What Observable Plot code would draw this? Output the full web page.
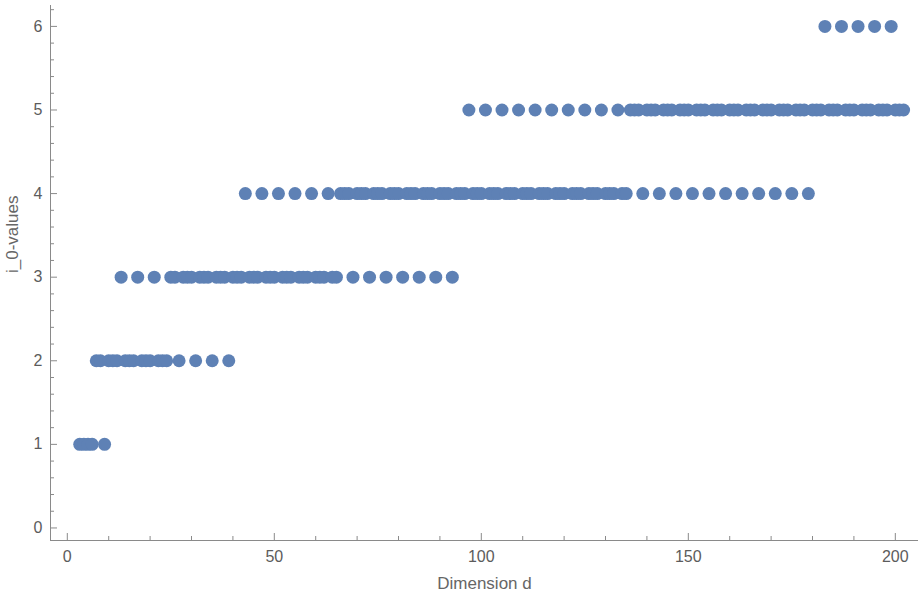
<!DOCTYPE html>
<html><head><meta charset="utf-8">
<script src="https://cdn.jsdelivr.net/npm/d3@7"></script>
<script src="https://cdn.jsdelivr.net/npm/@observablehq/plot@0.6"></script>
<style>body{margin:0;background:#fff;}</style>
</head><body><div id="chart"></div>
<script>
// i_0 value for each row and the dimensions d at which it occurs
const iValues = [1, 2, 3, 4, 5, 6];
const dAtI1 = [3,4,5,6,9];
const dAtI2 = [7,8,10,11,12,14,15,16,18,19,20,22,23,24,27,31,35,39];
const dAtI3 = [13,17,21,25,26,28,29,30,32,33,34,36,37,38,40,41,42,44,45,46,48,49,50,52,53,54,56,57,58,60,61,62,64,65,69,73,77,81,85,89,93];
const dAtI4 = [43,47,51,55,59,63,66,67,68,70,71,72,74,75,76,78,79,80,82,83,84,86,87,88,90,91,92,94,95,96,98,99,100,102,103,104,106,107,108,110,111,112,114,115,116,118,119,120,122,123,124,126,127,128,130,131,132,134,135,139,143,147,151,155,159,163,167,171,175,179];
const dAtI5 = [97,101,105,109,113,117,121,125,129,133,136,137,138,140,141,142,144,145,146,148,149,150,152,153,154,156,157,158,160,161,162,164,165,166,168,169,170,172,173,174,176,177,178,180,181,182,184,185,186,188,189,190,192,193,194,196,197,198,200,201,202];
const dAtI6 = [183,187,191,195,199];

const xMajorTicks = [0,50,100,150,200];
const xMinorTicks = [10,20,30,40,60,70,80,90,110,120,130,140,160,170,180,190];
const yMajorTicks = [0,1,2,3,4,5,6];
const yMinorTicks = [0.2,0.4,0.6,0.8,1.2,1.4,1.6,1.8,2.2,2.4,2.6,2.8,3.2,3.4,3.6,3.8,4.2,4.4,4.6,4.8,5.2,5.4,5.6,5.8,6.2];
const xDomain = [-4.06, 205.6];
const yDomain = [-0.15, 6.25];
const xLabel = "Dimension d";
const yLabel = "i_0-values";

const groups = [dAtI1, dAtI2, dAtI3, dAtI4, dAtI5, dAtI6];
const points = groups.flatMap((ds, k) => ds.map(d => ({d, v: iValues[k]})));

const axisColor = "#8a8a8a";
const textColor = "#5c5c5c";
const fmt = d => String(d);

const chart = Plot.plot({
  width: 922,
  height: 600,
  marginLeft: 50,
  marginRight: 4,
  marginTop: 5,
  marginBottom: 60,
  style: {fontFamily: "'Liberation Sans', Arial, sans-serif", fontSize: "16px", color: textColor, background: "#fff"},
  x: {domain: xDomain, axis: null},
  y: {domain: yDomain, axis: null},
  marks: [
    Plot.ruleY([yDomain[0]], {stroke: axisColor}),
    Plot.ruleX([xDomain[0]], {stroke: axisColor}),
    Plot.axisX(xMajorTicks, {anchor: "bottom", tickSize: -7, tickPadding: 17, tickFormat: fmt, stroke: axisColor, fill: textColor, fontSize: 16, label: null}),
    Plot.axisX(xMinorTicks, {anchor: "bottom", tickSize: -4, tickFormat: () => "", stroke: axisColor, label: null}),
    Plot.axisY(yMajorTicks, {anchor: "left", tickSize: -7, tickPadding: 15, tickFormat: fmt, stroke: axisColor, fill: textColor, fontSize: 16, label: null}),
    Plot.axisY(yMinorTicks, {anchor: "left", tickSize: -4, tickFormat: () => "", stroke: axisColor, label: null}),
    Plot.dot(points, {x: "d", y: "v", r: 6.5, fill: "#5E81B5", stroke: null}),
    Plot.text([xLabel], {frameAnchor: "bottom", dy: 48, fill: "#666", fontSize: 17}),
    Plot.text([yLabel], {frameAnchor: "left", rotate: -90, dx: -38, fill: "#666", fontSize: 17})
  ]
});
document.getElementById("chart").appendChild(chart);
</script>
</body></html>
